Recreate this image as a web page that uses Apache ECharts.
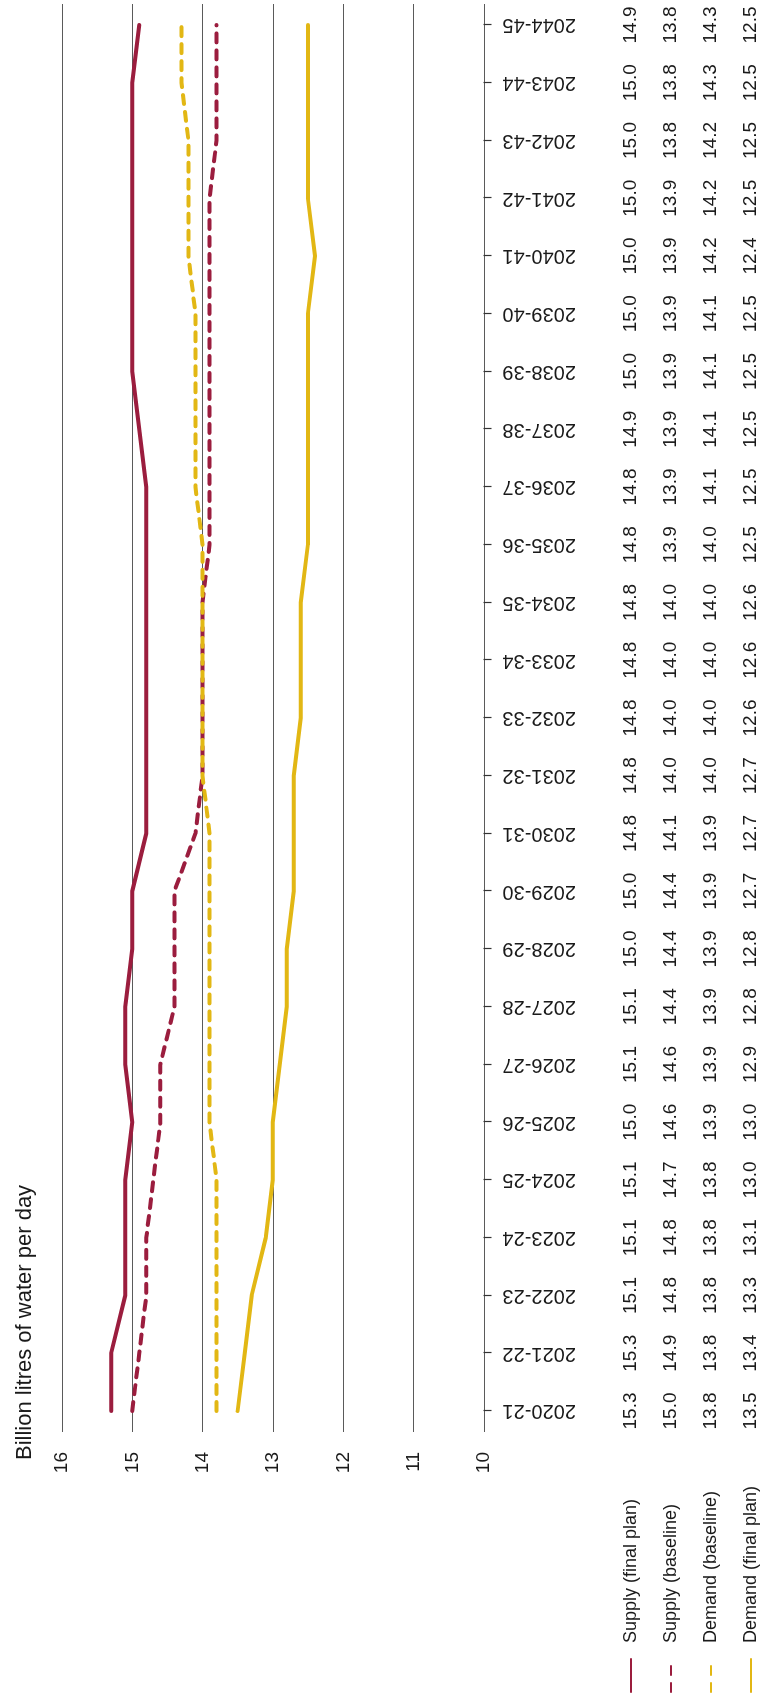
<!DOCTYPE html>
<html>
<head>
<meta charset="utf-8">
<script src="https://cdn.jsdelivr.net/npm/echarts@6/dist/echarts.min.js"></script>
<style>
  html, body { margin: 0; padding: 0; background: #fff; overflow: hidden; }
  body { width: 760px; height: 1701px; position: relative; }
  /* landscape chart, turned a quarter-turn anticlockwise onto the tall page */
  #chart {
    position: absolute; left: 0; top: 0;
    width: 1701px; height: 760px;
    transform-origin: 0 0;
    transform: translate(0, 1701px) rotate(-90deg);
  }
</style>
</head>
<body>
<div id="chart"></div>
<script>
// Financial years
const years = [
  '2020-21','2021-22','2022-23','2023-24','2024-25','2025-26','2026-27','2027-28',
  '2028-29','2029-30','2030-31','2031-32','2032-33','2033-34','2034-35','2035-36',
  '2036-37','2037-38','2038-39','2039-40','2040-41','2041-42','2042-43','2043-44','2044-45'
];

// Billion litres of water per day
const supplyFinalPlan = [15.3,15.3,15.1,15.1,15.1,15.0,15.1,15.1,15.0,15.0,14.8,14.8,14.8,14.8,14.8,14.8,14.8,14.9,15.0,15.0,15.0,15.0,15.0,15.0,14.9];
const supplyBaseline  = [15.0,14.9,14.8,14.8,14.7,14.6,14.6,14.4,14.4,14.4,14.1,14.0,14.0,14.0,14.0,13.9,13.9,13.9,13.9,13.9,13.9,13.9,13.8,13.8,13.8];
const demandBaseline  = [13.8,13.8,13.8,13.8,13.8,13.9,13.9,13.9,13.9,13.9,13.9,14.0,14.0,14.0,14.0,14.0,14.1,14.1,14.1,14.1,14.2,14.2,14.2,14.3,14.3];
const demandFinalPlan = [13.5,13.4,13.3,13.1,13.0,13.0,12.9,12.8,12.8,12.7,12.7,12.7,12.6,12.6,12.6,12.5,12.5,12.5,12.5,12.5,12.4,12.5,12.5,12.5,12.5];

const valueTicks = { min: 10, max: 16, step: 1 };
const axisTitle = 'Billion litres of water per day';

const RED = '#9b1d3e';
const GOLD = '#e2b714';
const FONT = '"Liberation Sans", Arial, Helvetica, sans-serif';
const TEXT = '#1a1a1a';

const seriesDefs = [
  { name: 'Supply (final plan)', data: supplyFinalPlan, color: RED,  dashed: false },
  { name: 'Supply (baseline)',   data: supplyBaseline,  color: RED,  dashed: true  },
  { name: 'Demand (baseline)',   data: demandBaseline,  color: GOLD, dashed: true  },
  { name: 'Demand (final plan)', data: demandFinalPlan, color: GOLD, dashed: false }
];

// table rows under the year axis: offset of each row from the axis line
const ROW0 = 147, ROW_STEP = 40;

const tableAxes = seriesDefs.map((s, i) => ({
  type: 'category',
  gridIndex: 1,
  position: 'bottom',
  offset: ROW0 + ROW_STEP * i,
  boundaryGap: false,
  data: years,
  axisLine: { show: false },
  axisTick: { show: false },
  axisLabel: {
    interval: 0,
    margin: 0,
    verticalAlign: 'middle',
    fontFamily: FONT,
    fontSize: 19,
    color: TEXT,
    formatter: (v, idx) => s.data[idx].toFixed(1)
  }
}));

const chart = echarts.init(document.getElementById('chart'), null, { renderer: 'canvas' });

chart.setOption({
  animation: false,
  backgroundColor: '#fff',
  title: {
    text: axisTitle,
    left: 236, top: 9,
    textStyle: { fontFamily: FONT, fontSize: 22, fontWeight: 'normal', color: TEXT }
  },
  legend: {
    orient: 'vertical',
    left: 8, top: 621,
    height: 180,
    padding: 0,
    itemWidth: 33, itemHeight: 14, itemGap: 20,
    itemStyle: { opacity: 0 },
    textStyle: { fontFamily: FONT, fontSize: 18, color: TEXT, padding: [0, 0, 0, 11], lineHeight: 20 },
    data: seriesDefs.map(s => s.name)
  },
  grid: [
    { left: 269, right: 4, top: 62, height: 422 },
    { left: 290, right: 25, top: 62, height: 422 }
  ],
  xAxis: [
    { type: 'category', gridIndex: 0, data: years, show: false },
    {
      type: 'category', gridIndex: 1, data: years, boundaryGap: false,
      axisLine: { show: false },
      axisTick: { show: true, inside: false, length: 8, lineStyle: { color: '#333', width: 1.2 } },
      axisLabel: { interval: 0, rotate: 90, margin: 19, fontFamily: FONT, fontSize: 20, color: TEXT }
    },
    ...tableAxes
  ],
  yAxis: [
    {
      type: 'value', gridIndex: 0,
      min: valueTicks.min, max: valueTicks.max, interval: valueTicks.step,
      axisLine: { show: false }, axisTick: { show: false },
      splitLine: { show: true, lineStyle: { color: '#5a5a5a', width: 1.2 } },
      axisLabel: { margin: 20, fontFamily: FONT, fontSize: 19, color: TEXT }
    },
    {
      type: 'value', gridIndex: 1,
      min: valueTicks.min, max: valueTicks.max, interval: valueTicks.step,
      show: false, splitLine: { show: false }
    }
  ],
  series: seriesDefs.map(s => ({
    name: s.name,
    type: 'line',
    xAxisIndex: 1, yAxisIndex: 1,
    data: s.data,
    symbol: 'none',
    smooth: false,
    color: s.color,
    lineStyle: {
      color: s.color, width: 4, cap: 'round', join: 'round',
      type: s.dashed ? [9, 8] : 'solid'
    },
    z: 3
  }))
});
</script>
</body>
</html>
